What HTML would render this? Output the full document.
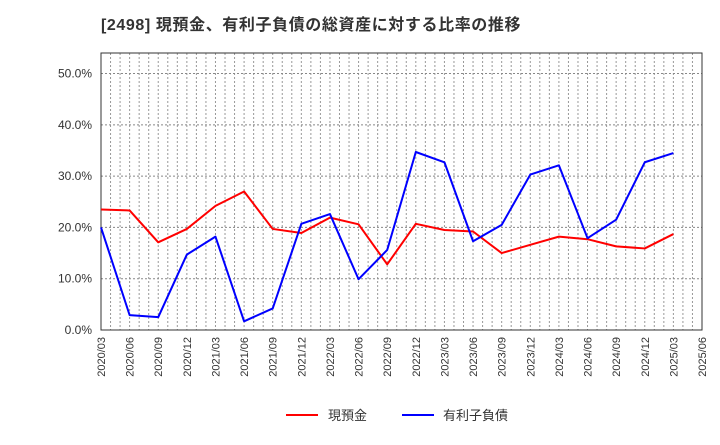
<!DOCTYPE html>
<html><head><meta charset="utf-8"><style>
body{margin:0;background:#fff;font-family:"Liberation Sans","Noto Sans CJK JP",sans-serif;}
</style></head><body>
<svg id="c" width="720" height="440" xmlns="http://www.w3.org/2000/svg">
<text x="101" y="30" font-size="16" font-weight="bold" fill="#333" letter-spacing="0.6" font-family="Liberation Sans, Noto Sans CJK JP, sans-serif">[2498]  現預金、有利子負債の総資産に対する比率の推移</text>
<g id="grid"></g><g id="axes"></g><g id="series"></g>
<g>
<line x1="286" y1="415" x2="318" y2="415" stroke="#f00" stroke-width="2"/>
<text x="328" y="420" font-size="13" fill="#333" font-family="Liberation Sans, Noto Sans CJK JP, sans-serif">現預金</text>
<line x1="402" y1="415" x2="434" y2="415" stroke="#00f" stroke-width="2"/>
<text x="443" y="420" font-size="13" fill="#333" font-family="Liberation Sans, Noto Sans CJK JP, sans-serif">有利子負債</text>
</g>
</svg>
<script>
const categories=["2020/03","2020/06","2020/09","2020/12","2021/03","2021/06","2021/09","2021/12","2022/03","2022/06","2022/09","2022/12","2023/03","2023/06","2023/09","2023/12","2024/03","2024/06","2024/09","2024/12","2025/03","2025/06"];
const cashValues=[23.5,23.3,17.1,19.7,24.2,27.0,19.7,18.9,21.9,20.6,12.8,20.7,19.5,19.2,15.0,16.6,18.2,17.7,16.3,15.9,18.7];
const debtValues=[20.0,2.9,2.5,14.7,18.2,1.7,4.2,20.7,22.6,9.9,15.6,34.7,32.7,17.3,20.5,30.3,32.1,17.9,21.5,32.7,34.5];
const yTicks=[0,10,20,30,40,50];
const yTickLabels=["0.0%","10.0%","20.0%","30.0%","40.0%","50.0%"];
const yMax=54;
const L=101,R=702,T=53,B=330;
const NS="http://www.w3.org/2000/svg";
function xq(i){return L+(R-L)*i/(categories.length-1);}
function y(v){return B-(B-T)*v/yMax;}
function mk(tag,attrs,parent){const e=document.createElementNS(NS,tag);for(const k in attrs)e.setAttribute(k,attrs[k]);parent.appendChild(e);return e;}
const grid=document.getElementById('grid'),axes=document.getElementById('axes'),ser=document.getElementById('series');
const months=(categories.length-1)*3;
for(let m=1;m<months;m++){const x=L+(R-L)*m/months;
const g=mk('line',{x1:x,x2:x,y1:T,y2:B,stroke:'#999','stroke-dasharray':'2,2','stroke-width':1},grid);

}
yTicks.forEach((t,i)=>{const yy=y(t);
if(t>0){const g=mk('line',{x1:L,x2:R,y1:yy,y2:yy,stroke:'#888','stroke-dasharray':'2,2','stroke-width':1},grid);

}
const tx=mk('text',{x:L-9,y:yy+4,'font-size':12,'text-anchor':'end',fill:'#333'},axes);tx.textContent=yTickLabels[i];

});
categories.forEach((c,i)=>{const x=xq(i);
const tx=mk('text',{x:x+4,y:337,'font-size':11,'text-anchor':'end',fill:'#333',transform:`rotate(-90 ${x+4} 337)`},axes);tx.textContent=c;

});
const fr=mk('rect',{x:L,y:T,width:R-L,height:B-T,fill:'none',stroke:'#333','stroke-width':1},axes);


function line(vals,color,name){const p=vals.map((v,i)=>xq(i)+','+y(v)).join(' ');
const pl=mk('polyline',{points:p,fill:'none',stroke:color,'stroke-width':2,'stroke-linejoin':'round'},ser);

}
line(cashValues,'#f00','cash-line');
line(debtValues,'#00f','debt-line');
</script>
</body></html>
